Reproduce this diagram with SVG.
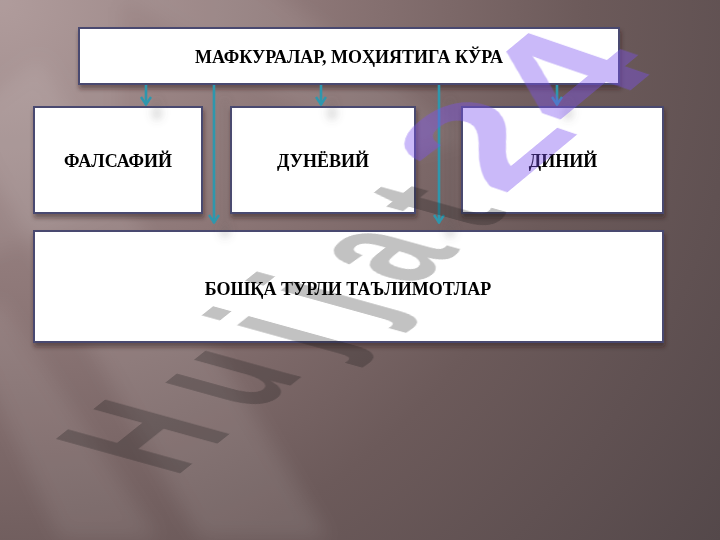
<svg xmlns="http://www.w3.org/2000/svg" width="720" height="540" viewBox="0 0 720 540">
  <defs>
    <radialGradient id="bg" cx="0" cy="0" r="900" gradientUnits="userSpaceOnUse">
      <stop offset="0" stop-color="#ab9696"/>
      <stop offset="0.35" stop-color="#8c7676"/>
      <stop offset="0.65" stop-color="#6c5a5a"/>
      <stop offset="1" stop-color="#54484a"/>
    </radialGradient>
    <filter id="blur" x="-20%" y="-20%" width="140%" height="140%">
      <feGaussianBlur stdDeviation="10"/>
    </filter>
    <filter id="boxShadow" x="-10%" y="-20%" width="120%" height="150%">
      <feDropShadow dx="1" dy="4" stdDeviation="2" flood-color="#2a1e1e" flood-opacity="0.45"/>
    </filter>
    <filter id="arrowShadow" x="-50%" y="-20%" width="300%" height="150%">
      <feDropShadow dx="11" dy="14" stdDeviation="4" flood-color="#606060" flood-opacity="0.35"/>
    </filter>
    <marker id="arr" viewBox="0 0 10 12" refX="9" refY="6" markerWidth="10" markerHeight="12" markerUnits="userSpaceOnUse" orient="auto">
      <path d="M1,1 L8.5,6 L1,11" fill="none" stroke="#2f97ad" stroke-width="2.4"/>
    </marker>
    <style>
      .box { fill: #ffffff; stroke: #4a4870; stroke-width: 2; }
      .lbl { font-family: "Liberation Serif", "DejaVu Serif", serif; font-weight: bold; font-size: 18px; fill: #000000; text-anchor: middle; }
      .conn { stroke: #2f97ad; stroke-width: 2.6; fill: none; }
      .wm { font-family: "Liberation Sans", "DejaVu Sans", sans-serif; font-weight: bold; font-size: 100px; }
    </style>
  </defs>

  <!-- background -->
  <rect x="0" y="0" width="720" height="540" fill="url(#bg)"/>
  <g filter="url(#blur)" fill="#ffffff">
    <polygon points="-40,120 40,60 330,540 200,540" opacity="0.09"/>
    <polygon points="-40,320 0,300 160,540 60,540" opacity="0.08"/>
    <polygon points="100,-20 260,-20 470,140 380,160" opacity="0.07"/>
    <polygon points="-20,-20 120,-20 120,200 -20,260" opacity="0.06"/>
  </g>

  <!-- nodes -->
  <g id="node-top" filter="url(#boxShadow)">
    <rect class="box" x="79" y="28" width="540" height="56"/>
    <text class="lbl" x="349" y="63">МАФКУРАЛАР, МОҲИЯТИГА КЎРА</text>
  </g>
  <g id="node-falsafiy" filter="url(#boxShadow)">
    <rect class="box" x="34" y="107" width="168" height="106"/>
    <text class="lbl" x="118" y="167">ФАЛСАФИЙ</text>
  </g>
  <g id="node-dunyoviy" filter="url(#boxShadow)">
    <rect class="box" x="231" y="107" width="184" height="106"/>
    <text class="lbl" x="323" y="167">ДУНЁВИЙ</text>
  </g>
  <g id="node-diniy" filter="url(#boxShadow)">
    <rect class="box" x="462" y="107" width="201" height="106"/>
    <text class="lbl" x="563" y="167">ДИНИЙ</text>
  </g>
  <g id="node-boshqa" filter="url(#boxShadow)">
    <rect class="box" x="34" y="231" width="629" height="111"/>
    <text class="lbl" x="348" y="295">БОШҚА ТУРЛИ ТАЪЛИМОТЛАР</text>
  </g>

  <!-- connectors -->
  <g id="connectors" filter="url(#arrowShadow)">
    <line class="conn" x1="146" y1="85" x2="146" y2="105" marker-end="url(#arr)"/>
    <line class="conn" x1="214" y1="85" x2="214" y2="223" marker-end="url(#arr)"/>
    <line class="conn" x1="321" y1="85" x2="321" y2="105" marker-end="url(#arr)"/>
    <line class="conn" x1="439" y1="85" x2="439" y2="223" marker-end="url(#arr)"/>
    <line class="conn" x1="557" y1="85" x2="557" y2="105" marker-end="url(#arr)"/>
  </g>

  <!-- watermark -->
  <g id="watermark">
    <text class="wm" transform="matrix(0.84,-0.67,1.806,0.5,174.1,477.7)" x="0" y="0" letter-spacing="24" fill="#141414" fill-opacity="0.26">Hujjat</text>
    <text class="wm" transform="matrix(1.45,-1.2,1.75,0.6,502.6,196.6)" x="0" y="0" fill="#7a4ff0" fill-opacity="0.4">24</text>
  </g>
</svg>
